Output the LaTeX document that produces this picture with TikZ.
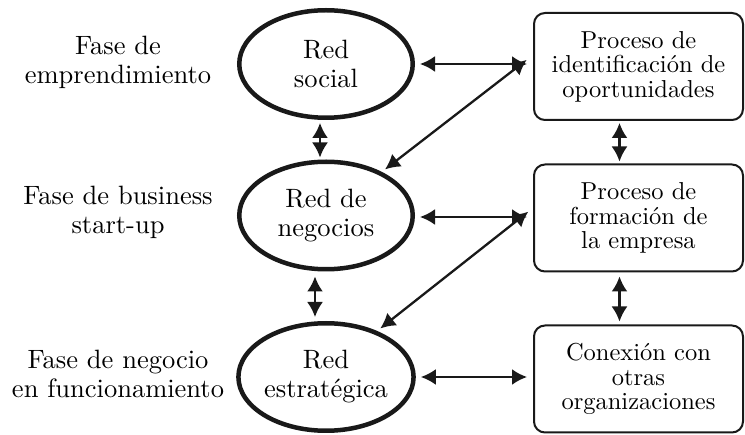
\documentclass[tikz,border=0pt]{standalone}
\usepackage{fontspec}
\setmainfont{lmroman10-regular.otf}
\usetikzlibrary{shapes.geometric,arrows.meta}
\begin{document}
\begin{tikzpicture}[x=1pt,y=-1pt,
  every node/.style={font=\fontsize{26.5}{29}\selectfont, align=center},
  net/.style={ellipse, draw=black!90, line width=4.5pt, minimum width=173.5pt, minimum height=107.5pt, inner sep=0pt},
  proc/.style={rectangle, rounded corners=11pt, draw=black!90, line width=2pt, minimum width=209pt, minimum height=107pt, inner sep=0pt, font=\fontsize{24.5}{24.5}\selectfont},
  phase/.style={inner sep=0pt},
  link/.style={{Latex[length=15pt,width=16pt]}-{Latex[length=15pt,width=16pt]}, line width=2.3pt, draw=black!90}
]
\useasboundingbox (0,0) rectangle (745,435);
\node[net] (e1) at (326,64) {Red\\social};
\node[net] (e2) at (326,215.5) {Red de\\negocios};
\node[net] (e3) at (326,377) {Red\\estratégica};
\node[proc] (b1) at (638.5,66.5) {Proceso de\\identificación de\\oportunidades};
\node[proc] (b2) at (638.5,218) {Proceso de\\formación de\\la empresa};
\node[proc] (b3) at (638.5,379) {Conexión con\\otras\\organizaciones};
\node[phase] (f1) at (118,62) {Fase de\\emprendimiento};
\node[phase] (f2) at (118,212) {Fase de business\\start-up};
\node[phase] (f3) at (118,374) {Fase de negocio\\en funcionamiento};
% horizontal
\draw[link, shorten <=5pt, shorten >=6pt] (e1.east) -- (e1.east -| b1.west);
\draw[link, shorten <=5pt, shorten >=6pt] ([yshift=-1.5pt]e2.east) -- ([yshift=-1.5pt]e2.east -| b2.west);
\draw[link, shorten <=5pt, shorten >=6pt] (e3.east) -- (e3.east -| b3.west);
% vertical
\draw[link, shorten <=3pt, shorten >=2pt] ([xshift=-6pt]e1.south) -- ([xshift=-6pt]e1.south |- e2.north);
\draw[link, shorten <=5pt, shorten >=4pt] ([xshift=-11pt]e2.south) -- ([xshift=-11pt]e2.south |- e3.north);
\draw[link, shorten <=2pt, shorten >=2pt] ([xshift=-19pt]b1.south) -- ([xshift=-19pt]b1.south |- b2.north);
\draw[link, shorten <=4pt, shorten >=3pt] ([xshift=-19pt]b2.south) -- ([xshift=-19pt]b2.south |- b3.north);
% diagonal
\draw[link, shorten <=8pt, shorten >=4pt] ([yshift=11.5pt]b1.west) -- (e2.38);
\draw[link, shorten <=6pt, shorten >=4pt] ([yshift=10pt]b2.west) -- (e3.42);
\end{tikzpicture}
\end{document}
